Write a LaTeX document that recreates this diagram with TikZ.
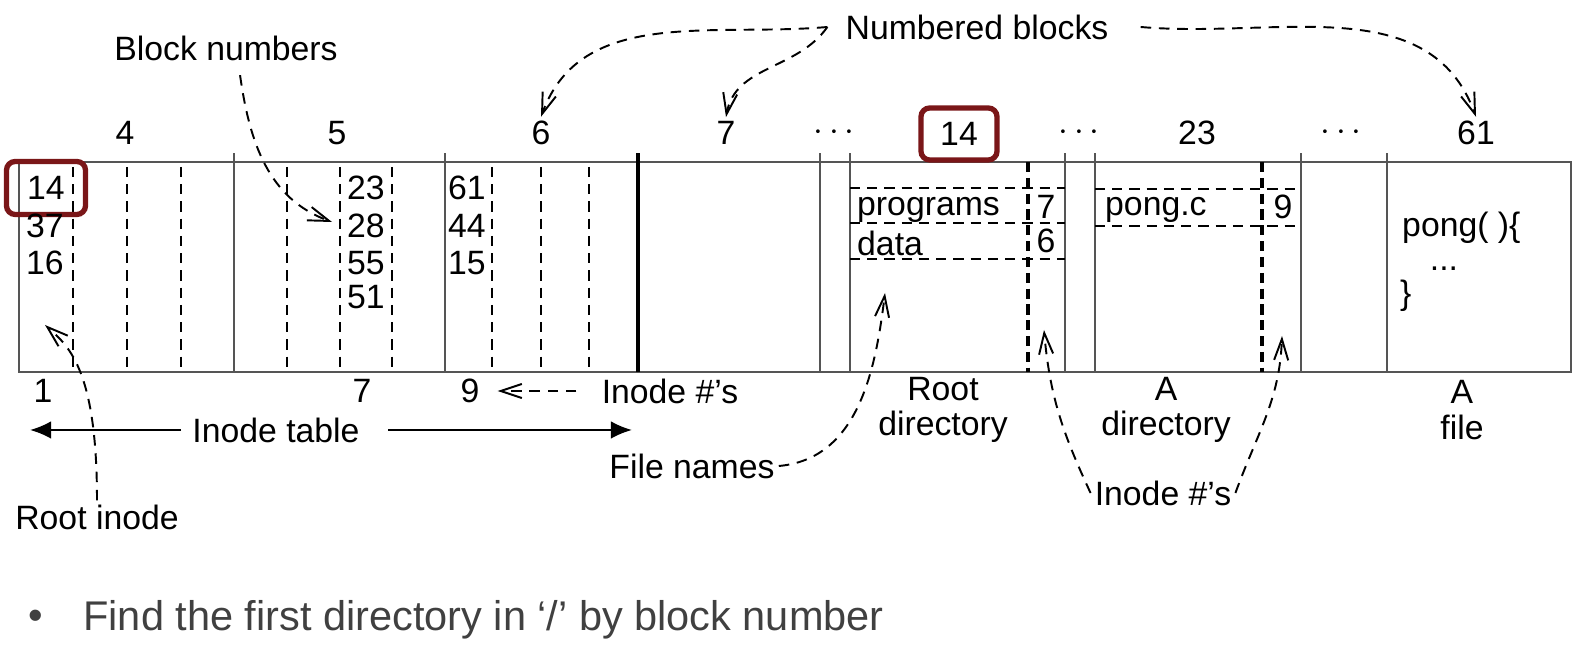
\documentclass[tikz,border=0pt]{standalone}
\usepackage{fontspec}
\setmainfont{Liberation Sans}
\usepackage{tikz}
\usetikzlibrary{arrows.meta}
\definecolor{boxred}{HTML}{7A1618}
\definecolor{wallgray}{HTML}{555555}
\tikzstyle{num}=[font=\fontsize{9.6}{10}\selectfont, inner sep=1pt]
\tikzstyle{wall}=[draw=wallgray, line width=0.55pt]
\tikzstyle{slot}=[dash pattern=on 2.9pt off 2pt, line width=0.7pt]
\tikzstyle{slotthick}=[dash pattern=on 2.9pt off 1.6pt, line width=1.1pt]
\tikzstyle{pointer}=[dash pattern=on 3pt off 2.2pt, line width=0.55pt, -{Straight Barb[length=6pt,width=4pt]}]
\tikzstyle{hilite}=[draw=boxred, line width=1.5pt, rounded corners=2.5pt]

\begin{document}
\begin{tikzpicture}[x=0.01cm, y=0.01cm]
\useasboundingbox (0,0) rectangle (1584,652);
% disk frame
\draw[wall] (19,280) rectangle (1571,490);
\draw[wall] (234,280) -- (234,499);
\draw[wall] (445,280) -- (445,499);
\draw[line width=1.3pt] (638,280) -- (638,499);
\draw[wall] (820,280) -- (820,499);
\draw[wall] (850,280) -- (850,499);
\draw[wall] (1065,280) -- (1065,499);
\draw[wall] (1095,280) -- (1095,499);
\draw[wall] (1301,280) -- (1301,499);
\draw[wall] (1387,280) -- (1387,499);
% inode slots
\draw[slot] (73,485) -- (73,280);
\draw[slot] (127,485) -- (127,280);
\draw[slot] (181,485) -- (181,280);
\draw[slot] (287,485) -- (287,280);
\draw[slot] (340,485) -- (340,280);
\draw[slot] (392,485) -- (392,280);
\draw[slot] (492,485) -- (492,280);
\draw[slot] (541,485) -- (541,280);
\draw[slot] (589,485) -- (589,280);
% directory entries
\draw[slotthick] (1028,490) -- (1028,280);
\draw[slot] (850,464) -- (1065,464);
\draw[slot] (850,429) -- (1065,429);
\draw[slot] (850,393) -- (1065,393);
\draw[slotthick] (1262,490) -- (1262,280);
\draw[slot] (1095,463) -- (1297,463);
\draw[slot] (1095,426) -- (1297,426);
% block numbers on top
\node[num] (Top4) at (125,519) {4};
\node[num] (Top5) at (337,519) {5};
\node[num] (Top6) at (541,519) {6};
\node[num] (Top7) at (726,519) {7};
\node[num] (Dots1) at (834,519) {$\cdots$};
\node[num, hilite, minimum width=0.76cm, minimum height=0.52cm] (Top14) at (959,518) {14};
\node[num] (Dots2) at (1079,519) {$\cdots$};
\node[num] (Top23) at (1197,519) {23};
\node[num] (Dots3) at (1341,519) {$\cdots$};
\node[num] (Top61) at (1476,519) {61};
% block contents
\node[num, hilite, minimum width=0.79cm, minimum height=0.53cm] (Ino1a) at (46,464) {14};
\node[num] (Ino1b) at (45,426) {37};
\node[num] (Ino1c) at (45,389) {16};
\node[num] (Blk5a) at (366,464) {23};
\node[num] (Blk5b) at (366,426) {28};
\node[num] (Blk5c) at (366,389) {55};
\node[num] (Blk5d) at (366,355) {51};
\node[num] (Blk6a) at (467,464) {61};
\node[num] (Blk6b) at (467,426) {44};
\node[num] (Blk6c) at (467,389) {15};
\node[num, anchor=west] (Programs) at (853,442) {programs};
\node[num, anchor=west] (Data) at (853,409) {data};
\node[num] (Prog7) at (1046,445) {7};
\node[num] (Data6) at (1046,411) {6};
\node[num, anchor=west] (PongC) at (1101,442) {pong.c};
\node[num] (Pong9) at (1283,445) {9};
\node[num, anchor=west] (Code1) at (1398,424) {pong( )\{};
\node[num, anchor=base] (Code2) at (1444,381) {...};
\node[num, anchor=west] (Code3) at (1396,356) {\}};
% labels below
\node[num] (Ino1) at (43,261) {1};
\node[num] (Ino7) at (362,261) {7};
\node[num] (Ino9) at (470,261) {9};
\node[num] (InodeNumsA) at (670,261) {Inode \#’s};
\node[num] (InodeTable) at (276,222) {Inode table};
\node[num] (RootInode) at (97,135) {Root inode};
\node[num] (FileNames) at (692,186) {File names};
\node[num, align=center] (RootDir) at (943,242) {Root\\directory};
\node[num, align=center] (ADir) at (1166,242) {A\\directory};
\node[num, align=center] (AFile) at (1462,242) {A\\file};
\node[num] (InodeNumsB) at (1163,159) {Inode \#’s};
\node[num] (Numbered) at (977,625) {Numbered blocks};
\node[num] (BlockNums) at (226,604) {Block numbers};
% pointer ends
\coordinate (TableL) at (30,222);
\coordinate (TableR) at (632,222);
\coordinate (Ptr28) at (332,430);
\coordinate (RootPtr) at (45,327);
\coordinate (NamePtr) at (885,359);
\coordinate (DirPtrL) at (1044,322);
\coordinate (DirPtrR) at (1282,316);
% arrows
\draw[pointer] ([xshift=-4pt]Numbered.west) to[out=185,in=70] (Top6.north);
\draw[pointer] ([xshift=-4pt]Numbered.west) to[out=235,in=80] (Top7.north);
\draw[pointer] ([xshift=8pt]Numbered.east) to[out=-5,in=110] (Top61.north);
\draw[pointer] ([xshift=4pt,yshift=-3pt]BlockNums.south) to[out=-82,in=160] (Ptr28);
\draw[pointer] (RootInode.north) .. controls (97,280) and (70,305) .. (RootPtr);
\draw[pointer, shorten <=6pt, shorten >=4pt] (InodeNumsA.west) -- (Ino9.east);
\draw[pointer] (FileNames.east) to[out=5,in=-97] (NamePtr);
\draw[pointer] (InodeNumsB.west) to[out=115,in=-85] (DirPtrL);
\draw[pointer] (InodeNumsB.east) to[out=70,in=-92] (DirPtrR);
\draw[-{Latex[length=6pt,width=5pt]}, line width=0.6pt] ([xshift=-2pt]InodeTable.west) -- (TableL);
\draw[-{Latex[length=6pt,width=5pt]}, line width=0.6pt] ([xshift=7pt]InodeTable.east) -- (TableR);
% bullet line
\node[font=\fontsize{11.8}{14}\selectfont, text=black!75] (Bullet) at (36,32) {•};
\node[anchor=west, font=\fontsize{11.8}{14}\selectfont, text=black!75] (Task) at (71,32) {Find the first directory in ‘/’ by block number};
\end{tikzpicture}
\end{document}
